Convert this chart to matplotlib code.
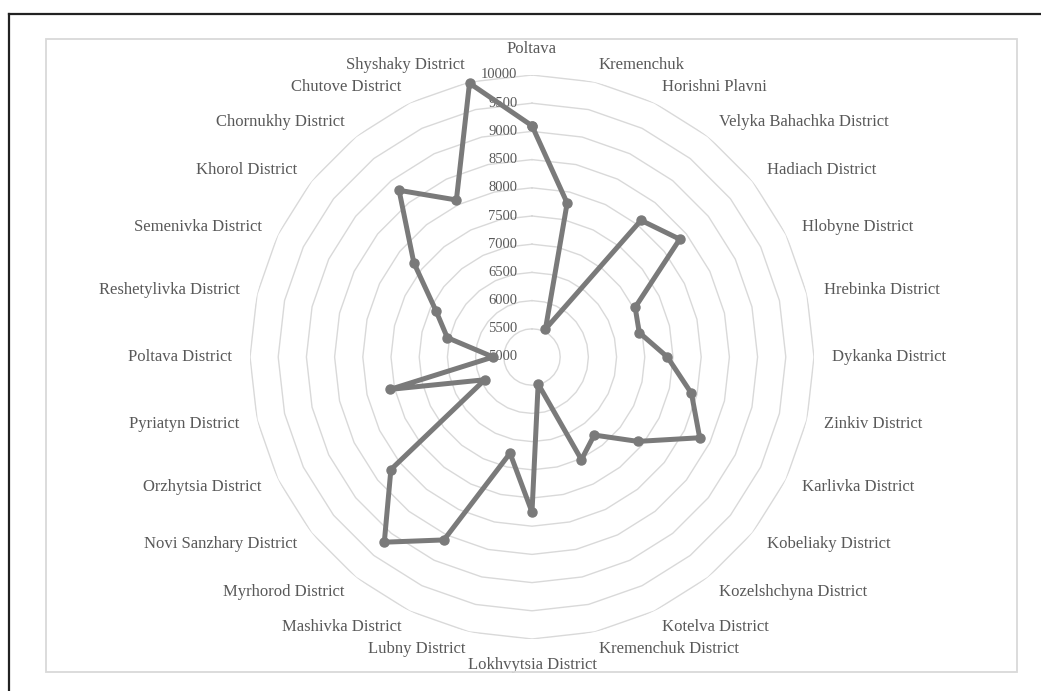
import numpy as np
import matplotlib
matplotlib.use('Agg')
import matplotlib.pyplot as plt
from matplotlib.lines import Line2D
from matplotlib.patches import Rectangle

districts = ['Poltava', 'Kremenchuk', 'Horishni Plavni', 'Velyka Bahachka District',
             'Hadiach District', 'Hlobyne District', 'Hrebinka District', 'Dykanka District',
             'Zinkiv District', 'Karlivka District', 'Kobeliaky District', 'Kozelshchyna District',
             'Kotelva District', 'Kremenchuk District', 'Lokhvytsia District', 'Lubny District',
             'Mashivka District', 'Myrhorod District', 'Novi Sanzhary District', 'Orzhytsia District',
             'Pyriatyn District', 'Poltava District', 'Reshetylivka District', 'Semenivka District',
             'Khorol District', 'Chornukhy District', 'Chutove District', 'Shyshaky District']

values = [9100, 7800, 5550, 8100, 8350, 7030, 6950, 7400, 7900, 8300, 7400, 6770, 7020, 5490,
          7750, 6750, 8600, 9200, 8200, 5930, 7580, 5690, 6540, 6890, 7680, 8780, 8090, 9980]

levels = list(range(5000, 10001, 500))

text_col = '#595959'
grid_col = '#d9d9d9'
line_col = '#7a7a7a'

fig = plt.figure(figsize=(10.41, 6.91), dpi=100)

# frame lines (outer black, inner grey chart area)
fig.add_artist(Line2D([9 / 1041, 9 / 1041], [0, 1 - 14 / 691], color='#222222', lw=1.6))
fig.add_artist(Line2D([9 / 1041, 1], [1 - 14 / 691, 1 - 14 / 691], color='#222222', lw=1.6))
fig.add_artist(Rectangle((46 / 1041, 1 - 672 / 691), (1017 - 46) / 1041, (672 - 39) / 691,
                         fill=False, edgecolor=grid_col, lw=1.3))

cx, cy, rad = 532 / 1041, 1 - 357 / 691, 282
ax = fig.add_axes([cx - rad / 1041, cy - rad / 691, 2 * rad / 1041, 2 * rad / 691], projection='polar')
ax.set_theta_offset(np.pi / 2)
ax.set_theta_direction(-1)
ax.set_ylim(levels[0], levels[-1])
ax.set_xticks([])
ax.set_yticks([])
ax.grid(False)
ax.spines['polar'].set_visible(False)
ax.patch.set_alpha(0)

n = len(districts)
angles = np.linspace(0, 2 * np.pi, n, endpoint=False)
closed = np.append(angles, angles[0])

# polygon gridlines
for lvl in levels[1:]:
    ax.plot(closed, [lvl] * (n + 1), color=grid_col, lw=1.0, zorder=1)

# radial tick labels
for lvl in levels:
    ax.annotate(str(lvl), xy=(0, lvl), xytext=(-10.5, 0), textcoords='offset points',
                ha='right', va='center', fontsize=10.5, color=text_col,
                family='Liberation Serif', zorder=2)

# data
ax.plot(closed, values + values[:1], color=line_col, lw=3.6, marker='o', ms=6.5,
        solid_joinstyle='round', zorder=3, clip_on=False)

# category labels
r_lab = levels[0] + (levels[-1] - levels[0]) * 300 / rad
for a, name in zip(angles, districts):
    s = np.sin(a)
    if abs(s) < 1e-6:
        ha = 'center'
        va = 'bottom' if np.cos(a) > 0 else 'top'
    else:
        ha = 'left' if s > 0 else 'right'
        va = 'center'
    ax.text(a, r_lab, name, ha=ha, va=va, fontsize=12, color=text_col, family='Liberation Serif')

fig.savefig('out.png', dpi=100)
